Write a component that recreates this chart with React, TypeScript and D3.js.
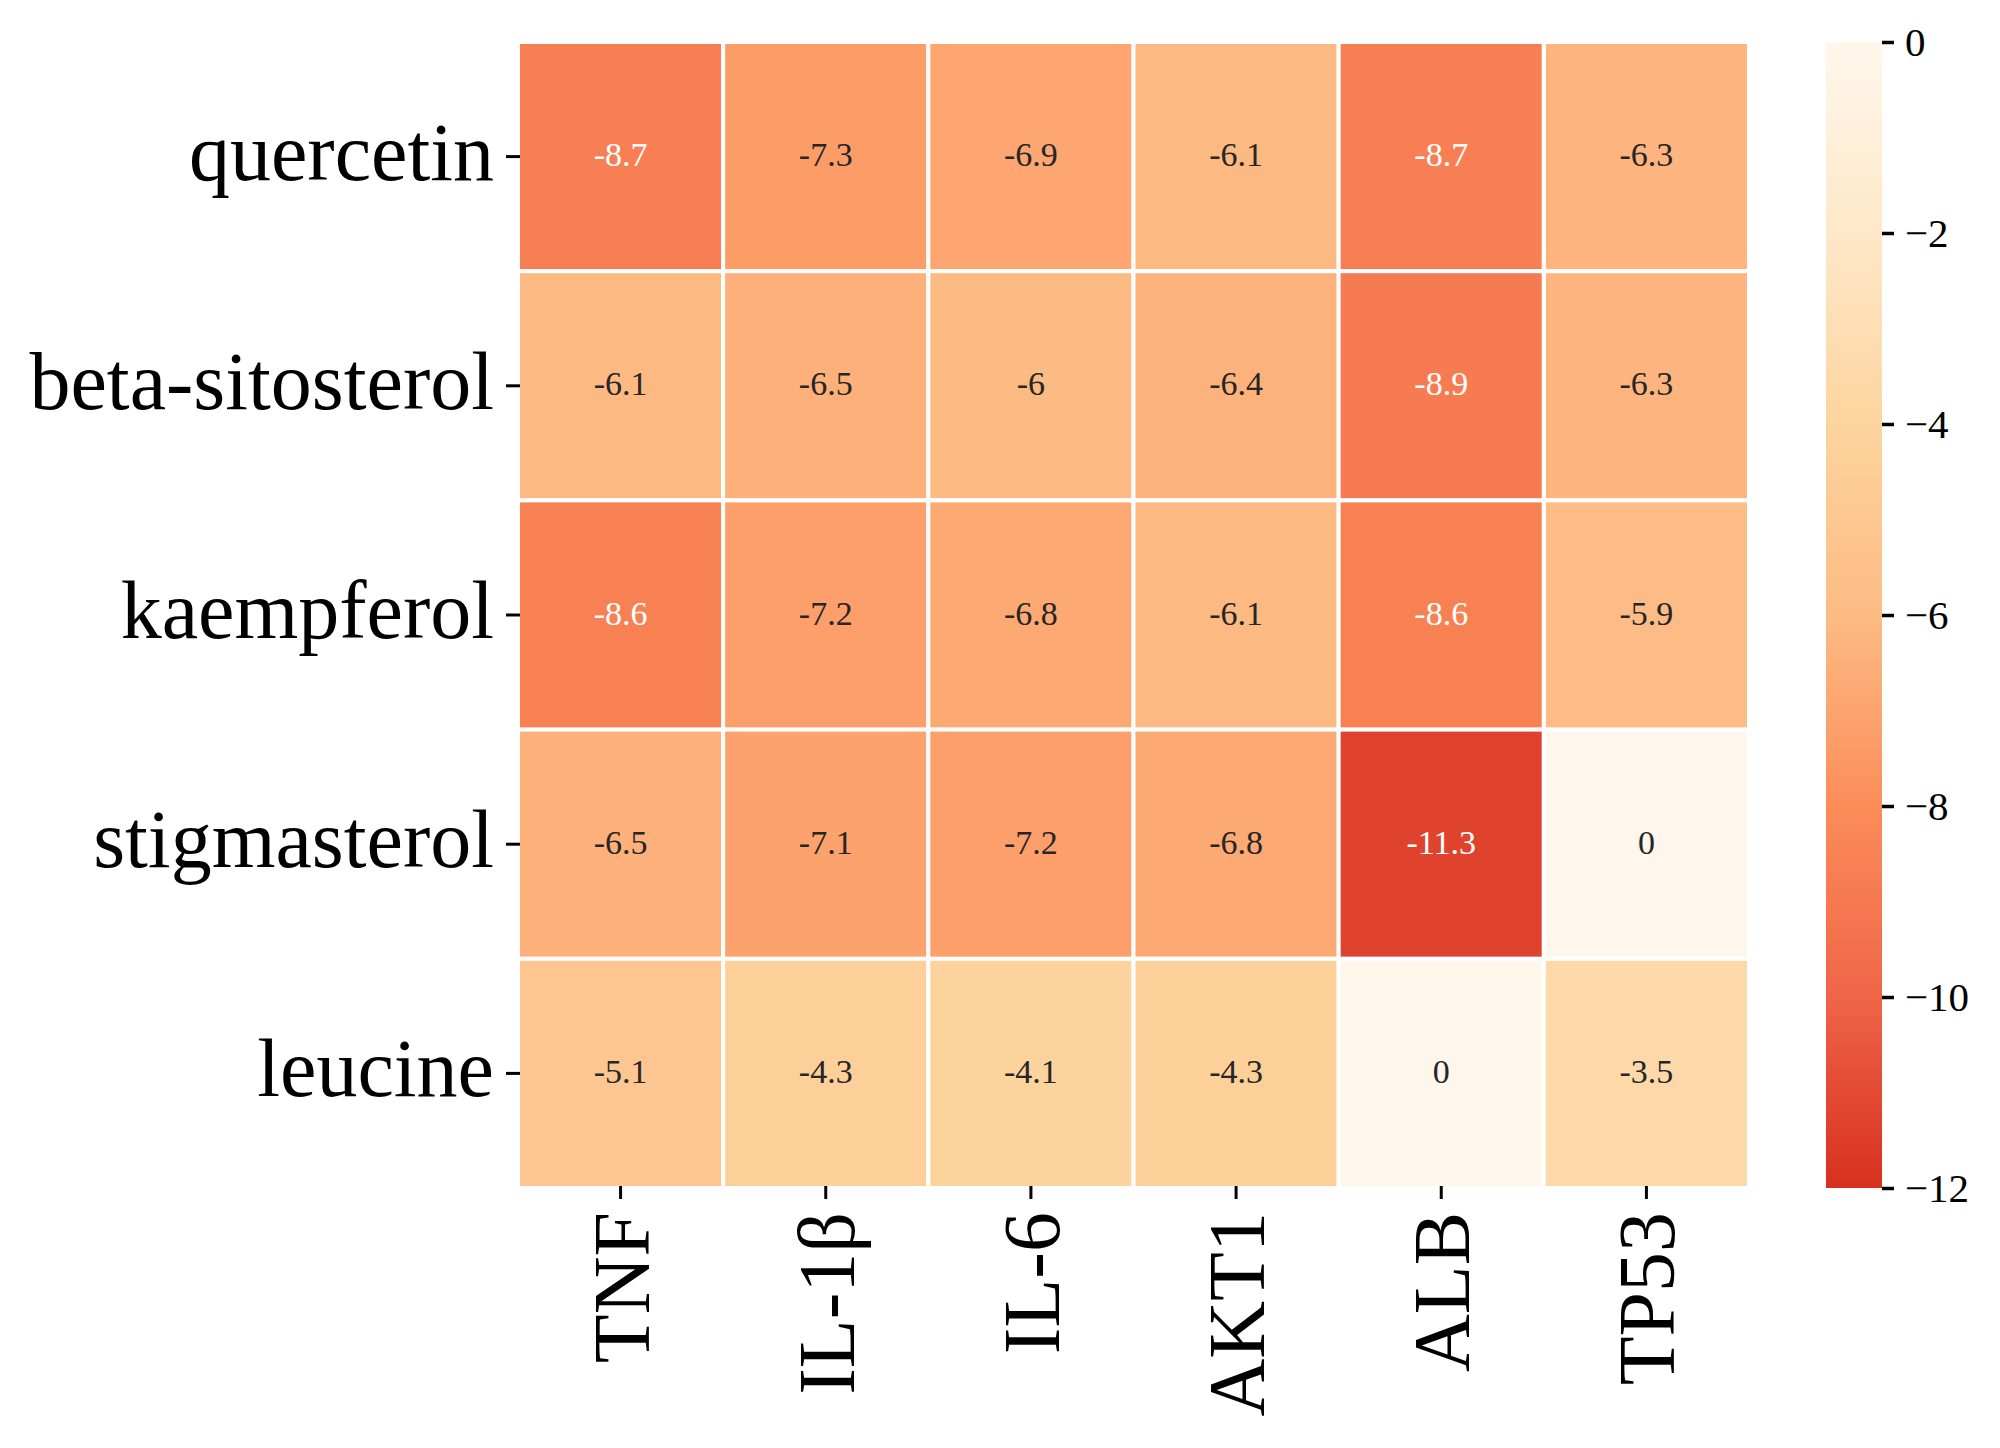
import React, { useEffect, useRef } from "react";
import * as d3 from "d3";

const compounds = ["quercetin", "beta-sitosterol", "kaempferol", "stigmasterol", "leucine"];
const targets = ["TNF", "IL-1β", "IL-6", "AKT1", "ALB", "TP53"];

// docking scores, one array per compound (same order as targets)
const quercetin = [-8.7, -7.3, -6.9, -6.1, -8.7, -6.3];
const betaSitosterol = [-6.1, -6.5, -6, -6.4, -8.9, -6.3];
const kaempferol = [-8.6, -7.2, -6.8, -6.1, -8.6, -5.9];
const stigmasterol = [-6.5, -7.1, -7.2, -6.8, -11.3, 0];
const leucine = [-5.1, -4.3, -4.1, -4.3, 0, -3.5];

const colorTicks = [0, -2, -4, -6, -8, -10, -12];
const colorStops = ["#fff7ec", "#fee8c8", "#fdd49e", "#fdbb84", "#fc8d59", "#ef6548", "#d7301f"];

const FONT = "'Liberation Serif', 'Times New Roman', serif";

function luminance(c: string) {
  const rgb = d3.rgb(c);
  const lin = (v: number) => {
    const s = v / 255;
    return s <= 0.03928 ? s / 12.92 : Math.pow((s + 0.055) / 1.055, 2.4);
  };
  return 0.2126 * lin(rgb.r) + 0.7152 * lin(rgb.g) + 0.0722 * lin(rgb.b);
}

const App: React.FC = () => {
  const ref = useRef<SVGSVGElement | null>(null);

  useEffect(() => {
    const width = 2000;
    const height = 1448;
    const left = 518;
    const right = 1749;
    const top = 42;
    const bottom = 1188;

    const rows = [quercetin, betaSitosterol, kaempferol, stigmasterol, leucine];
    const cells = rows.flatMap((vals, i) =>
      vals.map((v, j) => ({ row: compounds[i], col: targets[j], value: v }))
    );

    const svg = d3.select(ref.current);
    svg.selectAll("*").remove();
    svg.attr("width", width).attr("height", height);

    const x = d3.scaleBand<string>().domain(targets).range([left, right]);
    const y = d3.scaleBand<string>().domain(compounds).range([top, bottom]);

    const color = d3
      .scaleLinear<string>()
      .domain(colorTicks)
      .range(colorStops)
      .clamp(true);

    svg
      .append("g")
      .selectAll("rect")
      .data(cells)
      .enter()
      .append("rect")
      .attr("x", (d) => x(d.col) as number)
      .attr("y", (d) => y(d.row) as number)
      .attr("width", x.bandwidth())
      .attr("height", y.bandwidth())
      .attr("fill", (d) => color(d.value))
      .attr("stroke", "#ffffff")
      .attr("stroke-width", 4);

    svg
      .append("g")
      .selectAll("text")
      .data(cells)
      .enter()
      .append("text")
      .attr("x", (d) => (x(d.col) as number) + x.bandwidth() / 2)
      .attr("y", (d) => (y(d.row) as number) + y.bandwidth() / 2)
      .attr("dy", "0.28em")
      .attr("text-anchor", "middle")
      .attr("font-family", FONT)
      .attr("font-size", 34)
      .attr("fill", (d) => (luminance(color(d.value)) > 0.408 ? "#262626" : "#ffffff"))
      .text((d) => String(d.value));

    // row labels
    const yAxis = svg
      .append("g")
      .attr("transform", `translate(${left + 2},0)`)
      .call(d3.axisLeft(y).tickSize(14).tickPadding(12));
    yAxis.select(".domain").remove();
    yAxis.selectAll(".tick line").attr("stroke", "#000").attr("stroke-width", 3);
    yAxis
      .selectAll(".tick text")
      .attr("font-family", FONT)
      .attr("font-size", 82)
      .attr("dy", "0.28em")
      .attr("fill", "#000");

    // column labels, rotated
    const xAxis = svg
      .append("g")
      .attr("transform", `translate(0,${bottom - 2})`)
      .call(d3.axisBottom(x).tickSize(13).tickPadding(0));
    xAxis.select(".domain").remove();
    xAxis.selectAll(".tick line").attr("stroke", "#000").attr("stroke-width", 3);
    xAxis
      .selectAll(".tick text")
      .attr("font-family", FONT)
      .attr("font-size", 80)
      .attr("fill", "#000")
      .attr("transform", "rotate(-90)")
      .attr("text-anchor", "end")
      .attr("x", -26)
      .attr("y", 0)
      .attr("dy", "0.35em");

    // colorbar
    const cbLeft = 1826;
    const cbWidth = 56;
    const cbScale = d3.scaleLinear().domain([0, -12]).range([top, bottom]);

    const grad = svg
      .append("defs")
      .append("linearGradient")
      .attr("id", "cbar")
      .attr("x1", 0)
      .attr("y1", 0)
      .attr("x2", 0)
      .attr("y2", 1);
    grad
      .selectAll("stop")
      .data(colorTicks)
      .enter()
      .append("stop")
      .attr("offset", (d) => (cbScale(d) - top) / (bottom - top))
      .attr("stop-color", (d) => color(d));

    svg
      .append("rect")
      .attr("x", cbLeft)
      .attr("y", top)
      .attr("width", cbWidth)
      .attr("height", bottom - top)
      .attr("fill", "url(#cbar)");

    const cbAxis = svg
      .append("g")
      .attr("transform", `translate(${cbLeft + cbWidth},0)`)
      .call(d3.axisRight(cbScale).tickValues(colorTicks).tickSize(12).tickPadding(11));
    cbAxis.select(".domain").remove();
    cbAxis.selectAll(".tick line").attr("stroke", "#000").attr("stroke-width", 3.5);
    cbAxis
      .selectAll(".tick text")
      .attr("font-family", FONT)
      .attr("font-size", 41)
      .attr("fill", "#000");
  }, []);

  return (
    <div style={{ position: "absolute", left: 0, top: 0, background: "#fff" }}>
      <svg ref={ref} style={{ display: "block" }}></svg>
    </div>
  );
};

export default App;
